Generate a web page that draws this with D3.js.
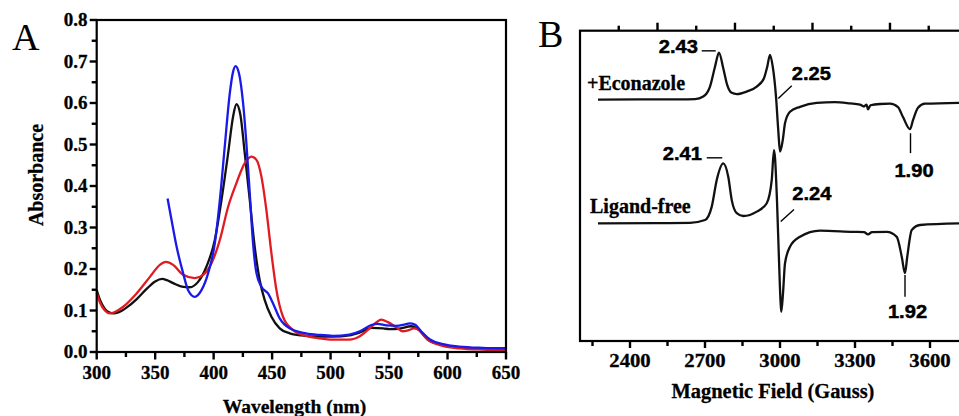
<!DOCTYPE html>
<html>
<head>
<meta charset="utf-8">
<script src="https://cdn.jsdelivr.net/npm/d3@7"></script>
<style>
  body { margin: 0; background: #fff; }
  svg { display: block; }
</style>
</head>
<body>
<div id="chart"></div>
<script>
// UV-vis spectra (panel A): [wavelength nm, absorbance]
let blackTrace = [
  [300, 0.149], [303, 0.124], [307, 0.104], [311, 0.095], [314, 0.093], [319, 0.096],
  [326, 0.108], [334, 0.127], [342.7, 0.152], [350, 0.170], [356, 0.176], [360, 0.173],
  [365.4, 0.166], [374, 0.157], [379.6, 0.156], [386.7, 0.169], [393.9, 0.206], [401, 0.270],
  [406.7, 0.366], [412.4, 0.479], [416.6, 0.567], [419.5, 0.597], [422.9, 0.571], [426.6, 0.479],
  [430.9, 0.366], [435.1, 0.254], [439.4, 0.173], [443.7, 0.125], [449.4, 0.085], [456.5, 0.057],
  [465, 0.045], [475, 0.040], [488, 0.037], [502, 0.037], [516, 0.040], [525, 0.047],
  [534.8, 0.058], [545, 0.057], [550.4, 0.055], [558, 0.056], [568.9, 0.062], [574.6, 0.055],
  [583, 0.030], [596, 0.017], [610, 0.011], [630, 0.008], [650, 0.007]
]

let redTrace = [
  [300, 0.142], [303, 0.118], [307, 0.100], [311.4, 0.093], [316, 0.097], [322.7, 0.109],
  [334.1, 0.141], [345.5, 0.181], [354, 0.210], [359.2, 0.217], [365.4, 0.210], [373.9, 0.186],
  [383.9, 0.178], [391, 0.186], [398.2, 0.214], [405.3, 0.270], [412.4, 0.350], [419.5, 0.407],
  [426.6, 0.455], [432.3, 0.471], [436.6, 0.463], [440.9, 0.422], [445.1, 0.342], [449.4, 0.238],
  [453.7, 0.149], [459.3, 0.085], [467.8, 0.053], [479.3, 0.039], [490.6, 0.033], [502, 0.030],
  [516, 0.030], [525, 0.038], [533.4, 0.057], [539, 0.071], [543.3, 0.078], [549, 0.072],
  [556, 0.060], [561.7, 0.050], [566, 0.052], [571.7, 0.057], [576, 0.052], [583, 0.030],
  [596, 0.015], [610, 0.009], [630, 0.006], [650, 0.005]
]

let blueTrace = [
  [360.6, 0.370], [364, 0.318], [368.3, 0.254], [373.9, 0.190], [378.2, 0.149], [383.9, 0.133],
  [389.6, 0.149], [395.3, 0.190], [401, 0.262], [405.3, 0.366], [409.5, 0.495], [413.8, 0.623],
  [416.6, 0.675], [418.7, 0.689], [421.7, 0.671], [425.2, 0.599], [428, 0.503], [430.9, 0.382],
  [433.7, 0.262], [436.6, 0.190], [440.9, 0.157], [446.5, 0.141], [450.8, 0.117], [456.5, 0.081],
  [465, 0.057], [479, 0.045], [490.6, 0.041], [502, 0.039], [516, 0.042], [525, 0.050],
  [534.8, 0.065], [540, 0.068], [548, 0.064], [556, 0.063], [563, 0.066], [567.5, 0.069],
  [572, 0.066], [578, 0.048], [585, 0.030], [596, 0.019], [610, 0.013], [630, 0.010], [650, 0.009]
]

let wavelengthTicks = [300, 350, 400, 450, 500, 550, 600, 650]
let wavelengthMinor = [325, 375, 425, 475, 525, 575, 625]
let absorbanceTicks = [0, 0.1, 0.2, 0.3, 0.4, 0.5, 0.6, 0.7, 0.8]
let absorbanceMinor = [0.05, 0.15, 0.25, 0.35, 0.45, 0.55, 0.65, 0.75]

// EPR spectra (panel B): [field G, intensity (arb., stacked)]
let econazoleEPR = [
  [2272, 7.76], [2440, 7.77], [2600, 7.77], [2660, 7.78], [2693, 7.86], [2720, 8.18],
  [2740, 8.82], [2756, 9.27], [2773, 8.77], [2789, 8.23], [2807, 7.98], [2827, 7.94],
  [2867, 8.02], [2907, 8.18], [2936, 8.45], [2949, 8.82], [2960, 9.20], [2971, 8.82],
  [2984, 7.86], [2993, 6.78], [3000, 6.09], [3011, 6.46], [3020, 7.00], [3040, 7.37],
  [3080, 7.53], [3147, 7.66], [3220, 7.68], [3280, 7.64], [3320, 7.60], [3336, 7.54],
  [3346, 7.60], [3352, 7.45], [3362, 7.58], [3400, 7.62], [3440, 7.63], [3472, 7.52],
  [3492, 7.20], [3520, 6.81], [3532, 7.10], [3552, 7.50], [3580, 7.63], [3716, 7.66]
]

let ligandFreeEPR = [
  [2272, 3.78], [2500, 3.79], [2640, 3.80], [2700, 3.89], [2727, 4.32], [2747, 5.18],
  [2773, 5.71], [2793, 5.28], [2807, 4.53], [2827, 4.11], [2853, 4.02], [2907, 4.16],
  [2947, 4.43], [2967, 5.18], [2976, 6.14], [2980, 5.90], [2988, 4.50], [2996, 2.60],
  [3002, 1.30], [3005, 0.94], [3012, 1.53], [3020, 2.50], [3040, 3.03], [3080, 3.35],
  [3160, 3.55], [3292, 3.51], [3336, 3.50], [3352, 3.43], [3368, 3.50], [3427, 3.51],
  [3467, 3.35], [3487, 2.71], [3500, 2.18], [3509, 2.71], [3527, 3.57], [3560, 3.73],
  [3716, 3.78]
]

let fieldTicks = [2400, 2700, 3000, 3300, 3600]
let fieldMinorTicks = [2250, 2550, 2850, 3150, 3450, 3750]
let topTicks = [2500, 2800, 3100, 3400, 3700]
let topMinorTicks = [2350, 2650, 2950, 3250, 3550]

// g-value labels: text, text anchor point, leader line
let gLabels = [
  { text: '2.43', at: [2672, 9.25], anchor: 'end', line: [[2687, 9.33], [2743, 9.33]] },
  { text: '2.25', at: [3047, 8.39], anchor: 'start', line: [[2993, 7.80], [3047, 8.21]] },
  { text: '1.90', at: [3536, 5.28], anchor: 'middle', line: [[3522, 6.68], [3522, 6.04]] },
  { text: '2.41', at: [2688, 5.82], anchor: 'end', line: [[2707, 5.89], [2769, 5.89]] },
  { text: '2.24', at: [3049, 4.53], anchor: 'start', line: [[3003, 3.84], [3056, 4.23]] },
  { text: '1.92', at: [3510, 0.73], anchor: 'middle', line: [[3500, 2.12], [3500, 1.42]] }
]
let seriesLabels = [
  { text: '+Econazole', at: [2228, 8.07] },
  { text: 'Ligand-free', at: [2240, 4.12] }
]

let width = 959
let height = 416
let serif = "'Liberation Serif', 'Times New Roman', serif"
let sans = "'Liberation Sans', Arial, sans-serif"

let svg = d3
  .select('#chart')
  .append('svg')
  .attr('width', width)
  .attr('height', height)

// bold text a bit heavier, like the scanned figure
function heavy(sel, w) {
  sel.style('font-weight', 'bold')
    .attr('stroke', '#000')
    .attr('stroke-width', w || 0.35)
    .attr('fill', '#000')
}

// tick marks drawn straight from the scales
function hTicks(g, values, scale, y0, len) {
  g.append('g')
    .selectAll('line')
    .data(values)
    .enter()
    .append('line')
    .attr('x1', d => scale(d))
    .attr('x2', d => scale(d))
    .attr('y1', y0)
    .attr('y2', y0 + len)
    .attr('stroke', '#000')
    .attr('stroke-width', 2.4)
}
function vTicks(g, values, scale, x0, len) {
  g.append('g')
    .selectAll('line')
    .data(values)
    .enter()
    .append('line')
    .attr('y1', d => scale(d))
    .attr('y2', d => scale(d))
    .attr('x1', x0)
    .attr('x2', x0 + len)
    .attr('stroke', '#000')
    .attr('stroke-width', 2.4)
}

// ---------- Panel A ----------
let xA = d3.scaleLinear().domain([300, 650]).range([96.7, 506])
let yA = d3.scaleLinear().domain([0, 0.8]).range([352, 20])

let gA = svg.append('g')

hTicks(gA, wavelengthTicks, xA, 352, 7.5)
hTicks(gA, wavelengthMinor, xA, 352, 5)
vTicks(gA, absorbanceTicks, yA, 96.7, -7)
vTicks(gA, absorbanceMinor, yA, 96.7, -5)

gA.append('g')
  .selectAll('text')
  .data(wavelengthTicks)
  .enter()
  .append('text')
  .attr('x', d => xA(d))
  .attr('y', 379)
  .attr('text-anchor', 'middle')
  .style('font-family', serif)
  .style('font-size', '19px')
  .call(heavy, 0.3)
  .text(d3.format('d'))

gA.append('g')
  .selectAll('text')
  .data(absorbanceTicks)
  .enter()
  .append('text')
  .attr('x', 87.5)
  .attr('y', d => yA(d))
  .attr('dy', '0.34em')
  .attr('text-anchor', 'end')
  .style('font-family', serif)
  .style('font-size', '19px')
  .call(heavy, 0.3)
  .text(d3.format('.1f'))

let lineA = d3
  .line()
  .x(d => xA(d[0]))
  .y(d => yA(d[1]))
  .curve(d3.curveMonotoneX)

let traces = [
  { data: blackTrace, color: '#111111' },
  { data: redTrace, color: '#e01b22' },
  { data: blueTrace, color: '#1a1ae8' }
]

gA.selectAll('.uv')
  .data(traces)
  .enter()
  .append('path')
  .attr('class', 'uv')
  .attr('d', d => lineA(d.data))
  .attr('fill', 'none')
  .attr('stroke', d => d.color)
  .attr('stroke-width', 2.3)

gA.append('rect')
  .attr('x', 96.7)
  .attr('y', 20)
  .attr('width', 506 - 96.7)
  .attr('height', 332)
  .attr('fill', 'none')
  .attr('stroke', '#000')
  .attr('stroke-width', 2.2)

gA.append('text')
  .attr('x', 294.5)
  .attr('y', 413)
  .attr('text-anchor', 'middle')
  .style('font-family', serif)
  .style('font-size', '19.5px')
  .call(heavy, 0.3)
  .text('Wavelength (nm)')

gA.append('text')
  .attr('transform', 'translate(43,175) rotate(-90)')
  .attr('text-anchor', 'middle')
  .style('font-family', serif)
  .style('font-size', '20px')
  .call(heavy, 0.3)
  .text('Absorbance')

gA.append('text')
  .attr('x', 12)
  .attr('y', 50)
  .style('font-family', serif)
  .style('font-size', '38px')
  .text('A')

// ---------- Panel B ----------
let xB = d3.scaleLinear().domain([2200, 3800]).range([580, 980])
// the top axis of the original is drawn on a slightly different spacing
let xBtop = d3.scaleLinear().domain([2200, 3800]).range([580, 993.3])
let yB = d3.scaleLinear().domain([0, 10]).range([341, 30])

let gB = svg.append('g')

hTicks(gB, fieldTicks, xB, 341, 7)
hTicks(gB, fieldMinorTicks, xB, 341, 5)
hTicks(gB, topTicks, xBtop, 30.7, -8)
hTicks(gB, topMinorTicks, xBtop, 30.7, -5)

gB.append('g')
  .selectAll('text')
  .data(fieldTicks)
  .enter()
  .append('text')
  .attr('transform', d => `translate(${xB(d)},367) scale(1.15,1)`)
  .attr('text-anchor', 'middle')
  .style('font-family', serif)
  .style('font-size', '18px')
  .call(heavy, 0.3)
  .text(d3.format('d'))

let lineB = d3
  .line()
  .x(d => xB(d[0]))
  .y(d => yB(d[1]))
  .curve(d3.curveMonotoneX)

gB.selectAll('.epr')
  .data([econazoleEPR, ligandFreeEPR])
  .enter()
  .append('path')
  .attr('class', 'epr')
  .attr('d', d => lineB(d))
  .attr('fill', 'none')
  .attr('stroke', '#111')
  .attr('stroke-width', 2.3)

gB.append('rect')
  .attr('x', 580)
  .attr('y', 30.7)
  .attr('width', 420)
  .attr('height', 341 - 30.7)
  .attr('fill', 'none')
  .attr('stroke', '#000')
  .attr('stroke-width', 2.2)

gB.selectAll('.gline')
  .data(gLabels)
  .enter()
  .append('line')
  .attr('x1', d => xB(d.line[0][0]))
  .attr('y1', d => yB(d.line[0][1]))
  .attr('x2', d => xB(d.line[1][0]))
  .attr('y2', d => yB(d.line[1][1]))
  .attr('stroke', '#000')
  .attr('stroke-width', 1.4)

gB.selectAll('.glabel')
  .data(gLabels)
  .enter()
  .append('text')
  .attr('transform', d => `translate(${xB(d.at[0])},${yB(d.at[1])}) scale(1.15,1)`)
  .attr('text-anchor', d => d.anchor)
  .style('font-family', sans)
  .style('font-size', '17.5px')
  .call(heavy, 0.45)
  .text(d => d.text)

gB.selectAll('.slabel')
  .data(seriesLabels)
  .enter()
  .append('text')
  .attr('x', d => xB(d.at[0]))
  .attr('y', d => yB(d.at[1]))
  .style('font-family', serif)
  .style('font-size', '20px')
  .call(heavy, 0.3)
  .text(d => d.text)

gB.append('text')
  .attr('x', 773)
  .attr('y', 398)
  .attr('text-anchor', 'middle')
  .style('font-family', serif)
  .style('font-size', '20.4px')
  .call(heavy, 0.3)
  .text('Magnetic Field (Gauss)')

gB.append('text')
  .attr('x', 538)
  .attr('y', 47)
  .style('font-family', serif)
  .style('font-size', '38px')
  .text('B')
</script>
</body>
</html>
